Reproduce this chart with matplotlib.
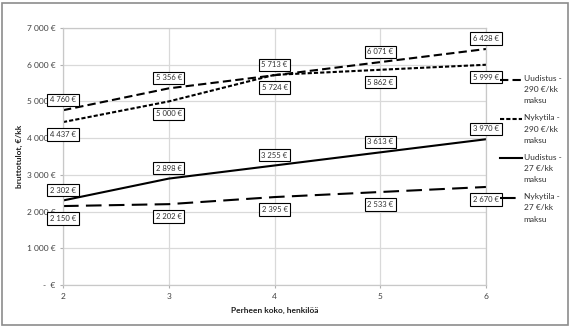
import numpy as np
import matplotlib
matplotlib.use("Agg")
import matplotlib.pyplot as plt
from matplotlib.font_manager import FontProperties
from matplotlib.legend_handler import HandlerLine2D
from matplotlib.lines import Line2D
from matplotlib.patches import Rectangle
from matplotlib.ticker import FuncFormatter

plt.rcParams['font.family'] = ['Lato', 'DejaVu Sans']

family_size = [2, 3, 4, 5, 6]
uudistus_290 = [4760, 5356, 5713, 6071, 6428]
nykytila_290 = [4437, 5000, 5724, 5862, 5999]
uudistus_27 = [2302, 2898, 3255, 3613, 3970]
nykytila_27 = [2150, 2202, 2395, 2533, 2670]
series_labels = ["Uudistus -\n290 €/kk\nmaksu", "Nykytila -\n290 €/kk\nmaksu",
                 "Uudistus -\n27 €/kk\nmaksu", "Nykytila -\n27 €/kk\nmaksu"]
y_ticks = [0, 1000, 2000, 3000, 4000, 5000, 6000, 7000]

LEG_SIZE = 6
LEG_SPACING = 1.7


def euro(v, pos=None):
    if v == 0:
        return "-  €"
    return f"{int(round(v)):,} €".replace(",", " ")


# legend lines sit next to the first text line instead of the middle one
class FirstLineHandler(HandlerLine2D):
    shift = 0.0

    def create_artists(self, legend, orig_handle, xdescent, ydescent,
                       width, height, fontsize, trans):
        arts = super().create_artists(legend, orig_handle, xdescent, ydescent,
                                      width, height, fontsize, trans)
        for a in arts:
            a.set_ydata(np.asarray(a.get_ydata()) + self.shift)
        return arts


fig = plt.figure(figsize=(5.71, 3.27), dpi=100)
ax = fig.add_axes([63 / 571, 42 / 327, 423 / 571, 257 / 327])

styles = [(0, (4, 2)), (0, (2, 1)), '-', (0, (7.5, 3.5))]
series = [uudistus_290, nykytila_290, uudistus_27, nykytila_27]
offsets = [7.5, -9, 7.5, -9]
lines = []
for vals, ls, lab, off in zip(series, styles, series_labels, offsets):
    ln, = ax.plot(family_size, vals, color='black', lw=1.5, linestyle=ls, label=lab)
    lines.append(ln)
    for x, v in zip(family_size, vals):
        ax.annotate(euro(v), (x, v), xytext=(0, off), textcoords='offset points',
                    ha='center', va='center', fontsize=5.5, color='#303030',
                    bbox=dict(boxstyle='square,pad=0.35', fc='white', ec='black', lw=0.8))

ax.set_xlim(2, 6)
ax.set_ylim(0, 7000)
ax.set_xticks(family_size)
ax.set_yticks(y_ticks)
ax.yaxis.set_major_formatter(FuncFormatter(euro))
ax.grid(True, color='#d9d9d9', lw=0.9)
ax.set_axisbelow(True)
for s in ax.spines.values():
    s.set_color('#c8c8c8')
    s.set_linewidth(0.9)
ax.tick_params(labelsize=6, colors='#404040', length=2.5, width=0.8, color='#b0b0b0', pad=3)

ax.set_xlabel("Perheen koko, henkilöä", fontsize=6, fontweight='bold', color='#202020', labelpad=5)
ax.set_ylabel("bruttotulot, €/kk", fontsize=6, fontweight='bold', color='#202020', labelpad=3)

# one text line pitch in points, so the handle can be lifted to the first line
renderer = fig.canvas.get_renderer()
_, lp_h, lp_d = renderer.get_text_width_height_descent(
    "lp", FontProperties(family=['Lato', 'DejaVu Sans'], size=LEG_SIZE), ismath=False)
FirstLineHandler.shift = (lp_h - lp_d) * LEG_SPACING * 72 / fig.dpi

leg = fig.legend(handles=lines, loc='upper left', bbox_to_anchor=(500 / 571, 1 - 75 / 327),
                 frameon=False, fontsize=LEG_SIZE, handlelength=2.6, handletextpad=0.25,
                 labelspacing=1.2, borderpad=0, borderaxespad=0,
                 handler_map={Line2D: FirstLineHandler()})
for t in leg.get_texts():
    t.set_linespacing(LEG_SPACING)
    t.set_color('#303030')

fig.add_artist(Rectangle((2 / 571, 2 / 327), 566 / 571, 322 / 327, transform=fig.transFigure,
                         fill=False, ec='#8c8c8c', lw=1.2))

fig.savefig("out.png", dpi=100)
